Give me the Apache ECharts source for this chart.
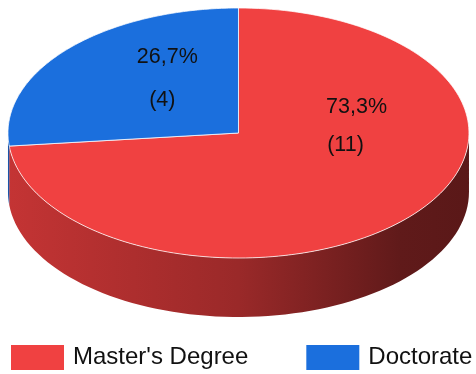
<!DOCTYPE html>
<html>
<head>
<meta charset="utf-8">
<script src="https://cdn.jsdelivr.net/npm/echarts@6/dist/echarts.min.js"></script>
<style>html,body{margin:0;padding:0;background:#fff}#c{width:476px;height:374px}</style>
</head>
<body>
<div id="c"></div>
<script>
// ---- data ----
var categories = ["Master's Degree", "Doctorate"];
var values = [11, 4];
var percentLabels = ["73,3%", "26,7%"];
var countLabels = ["(11)", "(4)"];

// ---- styling ----
var topColors = ['#f04141', '#1b6fdd'];
var sideStops = [
  [{offset:0,color:'#c43434'},{offset:0.5,color:'#9a2929'},{offset:0.85,color:'#601a1a'},{offset:1,color:'#5a1818'}],
  [{offset:0,color:'#1a54a8'},{offset:1,color:'#0d2a55'}]
];

var total = values.reduce(function(a,b){return a+b;},0);

function geom(api){
  var w = api.getWidth();
  return {cx: w*0.501, cy: 133, rx: 230.5, ry: 125, depth: 59};
}

function sliceAngles(i){
  var before = 0;
  for (var k=0;k<i;k++) before += values[k];
  var a0 = 90 - before/total*360;
  var a1 = a0 - values[i]/total*360;
  return [a0, a1];
}

function pt(g, deg, dy){
  var r = deg*Math.PI/180;
  return [g.cx + g.rx*Math.cos(r), g.cy - g.ry*Math.sin(r) + (dy||0)];
}

function renderItem(params, api){
  var i = params.seriesIndex;
  var g = geom(api);
  var ang = sliceAngles(i);
  var a0 = ang[0], a1 = ang[1];
  var children = [];
  var segs = [];
  for (var base=-720; base<=360; base+=360){
    var lo = Math.max(a1, base+180), hi = Math.min(a0, base+360);
    if (hi > lo) segs.push([lo, hi]);
  }
  segs.forEach(function(s){
    var pts = [], n = 80;
    for (var k=0;k<=n;k++){ pts.push(pt(g, s[0]+(s[1]-s[0])*k/n, 0)); }
    for (var k2=n;k2>=0;k2--){ pts.push(pt(g, s[0]+(s[1]-s[0])*k2/n, g.depth)); }
    children.push({
      type:'polygon', shape:{points:pts},
      style:{fill: new echarts.graphic.LinearGradient(g.cx-g.rx,0,g.cx+g.rx,0, sideStops[i], true), stroke:null}
    });
  });
  var top = [[g.cx, g.cy]], n2 = 160;
  for (var k3=0;k3<=n2;k3++){ top.push(pt(g, a0+(a1-a0)*k3/n2, 0)); }
  children.push({
    type:'polygon', shape:{points:top},
    style:{fill: topColors[i], stroke:'rgba(255,255,255,0.75)', lineWidth:1, lineJoin:'round'}
  });
  var mid = (a0+a1)/2;
  var mr = mid*Math.PI/180;
  var px, py, qx, qy;
  if (i === 0){
    var lx = g.cx + 0.66*g.rx*Math.cos(mr), ly = g.cy - 0.06*g.ry;
    px = lx + 5; py = ly - 18; qx = lx - 6; qy = ly + 19.5;
  } else {
    var lx2 = g.cx + 0.43*g.rx*Math.cos(mr), ly2 = g.cy - 0.62*g.ry*Math.sin(mr) - 2;
    px = lx2 + 2.5; py = ly2 - 22; qx = lx2 - 2.5; qy = ly2 + 21;
  }
  var fontStyle = {fontFamily:'Liberation Sans, Arial, sans-serif', fontSize:21.5, fill:'#111', align:'center', verticalAlign:'middle'};
  children.push({type:'text', style: Object.assign({text: percentLabels[i], x: px, y: py}, fontStyle)});
  children.push({type:'text', style: Object.assign({text: countLabels[i], x: qx, y: qy}, fontStyle)});
  return {type:'group', children: children};
}

var series = categories.map(function(name, i){
  return {
    type:'custom', name: name, coordinateSystem:'none', renderItem: renderItem,
    data:[[values[i]]], itemStyle:{color: topColors[i]}, silent:true, animation:false
  };
});

var chart = echarts.init(document.getElementById('c'));
chart.setOption({
  backgroundColor:'#fff',
  animation:false,
  legend:{
    data: categories, left: 11, top: 345, padding:0, icon:'rect', itemWidth:53, itemHeight:25, itemGap:58,
    selectedMode:false,
    textStyle:{fontFamily:'Liberation Sans, Arial, sans-serif', fontSize:24, color:'#111', padding:[0,0,0,4]}
  },
  series: series
});
</script>
</body>
</html>
